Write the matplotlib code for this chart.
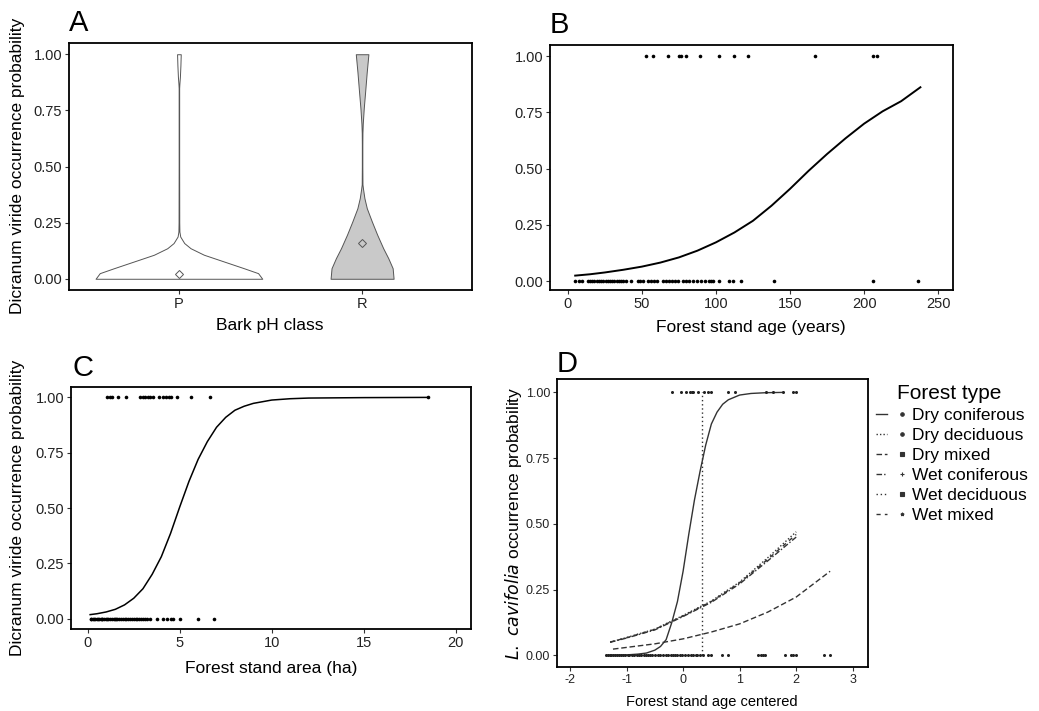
import matplotlib
matplotlib.use("Agg")
import matplotlib.pyplot as plt
from matplotlib.lines import Line2D
from matplotlib.legend_handler import HandlerTuple

plt.rcParams['font.family'] = ['Liberation Sans', 'DejaVu Sans']
plt.rcParams['axes.unicode_minus'] = False

# ---- data ----
# A: violin profiles (relative width 0..1 at each probability level)
bark_classes = ['P', 'R']
p_levels = [0, 0.01, 0.025, 0.047, 0.077, 0.107, 0.136, 0.159, 0.188, 0.21, 0.25, 0.5, 0.85, 0.87, 0.9, 0.95, 1.0]
p_width = [1.0, 0.98, 0.95, 0.78, 0.54, 0.30, 0.14, 0.064, 0.016, 0.006, 0.004, 0.003, 0.003, 0.006, 0.012, 0.018, 0.022]
r_levels = [0, 0.047, 0.092, 0.136, 0.196, 0.255, 0.314, 0.359, 0.40, 0.42, 0.5, 0.6, 0.65, 0.69, 0.76, 0.83, 0.92, 1.0]
r_width = [1.0, 0.97, 0.83, 0.67, 0.48, 0.31, 0.15, 0.074, 0.03, 0.012, 0.008, 0.008, 0.011, 0.021, 0.053, 0.095, 0.147, 0.2]
bark_means = [0.02, 0.16]

# B: forest stand age
age_present = [52.7, 57.7, 67.4, 75, 76.6, 79.5, 89.4, 102.2, 112.2, 121.8, 166.7, 206.3, 208.6]
age_absent = [4.7, 7.7, 9.7, 13.5, 15, 16.5, 18, 19.5, 21, 22.5, 24, 25.5, 27, 28.5, 30, 31.5, 33,
              34.5, 36, 37.5, 39.5, 43, 47.5, 49, 51, 54, 56, 58, 60, 64.5, 66.5, 68.5, 70.5, 72.5,
              74.5, 78, 80, 82, 84.5, 87.5, 90, 92.5, 95, 97, 98, 102, 109, 111.7, 117, 139, 206.3, 236.3]
age_fit_x = [5, 15, 25, 37.5, 50, 62.5, 75, 87.5, 100, 112.5, 125, 137.5, 150, 162.5, 175,
             187.5, 200, 212.5, 225, 238]
age_fit_y = [0.024, 0.03, 0.038, 0.05, 0.064, 0.082, 0.105, 0.135, 0.172, 0.216, 0.268, 0.335,
             0.41, 0.49, 0.565, 0.635, 0.70, 0.755, 0.80, 0.862]

# C: forest stand area
area_present = [1.07, 1.2, 1.32, 1.63, 2.1, 2.85, 3.0, 3.1, 3.25, 3.4, 3.55, 3.85, 4.1, 4.25,
                4.4, 4.55, 4.85, 5.6, 6.65, 18.5]
area_absent = [0.15, 0.2, 0.3, 0.35, 0.4, 0.5, 0.55, 0.6, 0.7, 0.75, 0.8, 0.9, 1.0, 1.05, 1.1,
               1.2, 1.3, 1.4, 1.5, 1.55, 1.6, 1.7, 1.8, 1.9, 2.0, 2.1, 2.2, 2.3, 2.4, 2.5, 2.6,
               2.7, 2.8, 2.9, 3.0, 3.1, 3.2, 3.39, 3.75, 4.11, 4.3, 4.5, 4.65, 5.02, 6.01, 6.88]
area_fit_x = [0.13, 0.5, 1, 1.5, 2, 2.5, 3, 3.5, 4, 4.5, 5, 5.5, 6, 6.5, 7, 7.5, 8, 8.5, 9,
              10, 11, 12, 15, 18.5]
area_fit_y = [0.018, 0.022, 0.03, 0.042, 0.062, 0.092, 0.135, 0.2, 0.28, 0.385, 0.505, 0.62,
              0.72, 0.80, 0.865, 0.91, 0.942, 0.96, 0.973, 0.988, 0.994, 0.997, 0.999, 1.0]

# D: centred age by forest type
forest_types = ['Dry coniferous', 'Dry deciduous', 'Dry mixed', 'Wet coniferous', 'Wet deciduous', 'Wet mixed']
fit_x = {
    'Dry coniferous': [-1.35, -1.0, -0.8, -0.65, -0.5, -0.4, -0.3, -0.2, -0.1, 0, 0.1, 0.2, 0.3,
                       0.4, 0.5, 0.6, 0.7, 0.8, 1.0, 1.2, 1.47, 1.76],
    'Dry deciduous': [-1.29, -1.0, -0.5, 0, 0.5, 1.0, 1.5, 2.0],
    'Dry mixed': [-1.24, -0.5, 0, 0.5, 1.0, 1.5, 2.0, 2.6],
    'Wet coniferous': [-1.29, -1.0, -0.5, 0, 0.5, 1.0, 1.5, 2.0],
    'Wet deciduous': [0.33, 0.33],
    'Wet mixed': [-1.29, -1.0, -0.5, 0, 0.5, 1.0, 1.5, 2.0],
}
fit_y = {
    'Dry coniferous': [0.0, 0.002, 0.005, 0.009, 0.02, 0.034, 0.06, 0.125, 0.205, 0.32, 0.46,
                       0.59, 0.70, 0.80, 0.88, 0.925, 0.955, 0.972, 0.99, 0.996, 0.999, 1.0],
    'Dry deciduous': [0.05, 0.068, 0.10, 0.152, 0.207, 0.279, 0.372, 0.47],
    'Dry mixed': [0.024, 0.044, 0.063, 0.089, 0.12, 0.165, 0.222, 0.32],
    'Wet coniferous': [0.05, 0.066, 0.097, 0.148, 0.202, 0.272, 0.36, 0.45],
    'Wet deciduous': [0.0, 1.0],
    'Wet mixed': [0.051, 0.067, 0.099, 0.150, 0.205, 0.276, 0.366, 0.46],
}
cent_present = [-0.19, -0.03, 0.06, 0.12, 0.15, 0.18, 0.27, 0.37, 0.44, 0.5, 0.8, 0.91, 1.47, 1.59, 1.77, 1.94, 1.99]
cent_absent = [-1.37, -1.33, -1.3, -1.27, -1.24, -1.2, -1.17, -1.13, -1.1, -1.06, -1.02, -0.98, -0.95,
               -0.9, -0.86, -0.82, -0.78, -0.74, -0.7, -0.66, -0.62, -0.58, -0.55, -0.5, -0.44, -0.4,
               -0.35, -0.3, -0.27, -0.22, -0.18, -0.14, -0.1, -0.06, -0.02, 0.03, 0.08, 0.14, 0.18,
               0.22, 0.25, 0.3, 0.36, 0.44, 0.5, 0.68, 0.8, 1.33, 1.37, 1.41, 1.45, 1.8, 1.9, 1.95,
               2.0, 2.49, 2.6]

# ---- figure ----
W, H = 1039, 711
fig = plt.figure(figsize=(W / 100, H / 100), dpi=100)
fig.patch.set_facecolor('white')


def add_ax(l, t, r, b):
    return fig.add_axes([l / W, 1 - b / H, (r - l) / W, (b - t) / H])


def text_px(x, y, s, **kw):
    fig.text(x / W, 1 - y / H, s, **kw)


def style(ax, tsize=10.5):
    for sp in ax.spines.values():
        sp.set_linewidth(1.3)
        sp.set_color('black')
    ax.tick_params(length=3, width=0.8, color='#333333', labelcolor='#222222',
                   labelsize=tsize, pad=2)
    ax.set_yticks([0, 0.25, 0.5, 0.75, 1.0])
    ax.set_yticklabels(['0.00', '0.25', '0.50', '0.75', '1.00'])


# A
axA = add_ax(69, 43, 472, 290)
half = [0.455, 0.172]
fills = ['white', '#c9c9c9']
profiles = [(p_levels, p_width), (r_levels, r_width)]
for i, (lv, wd) in enumerate(profiles):
    c = i + 1
    left = [c - half[i] * w for w in wd]
    right = [c + half[i] * w for w in wd]
    axA.fill_betweenx(lv, left, right, facecolor=fills[i], edgecolor='#555555', linewidth=0.7)
    axA.plot([c], [bark_means[i]], marker='D', ms=4.5, mfc='none', mec='#555555', mew=0.7)
axA.set_xlim(0.4, 2.6)
axA.set_ylim(-0.05, 1.05)
axA.set_xticks([1, 2])
axA.set_xticklabels(bark_classes)
style(axA)

# B
axB = add_ax(550, 45, 953, 290)
axB.plot(age_present, [1] * len(age_present), 'o', color='black', ms=2.6, mew=0)
axB.plot(age_absent, [0] * len(age_absent), 'o', color='black', ms=2.6, mew=0)
axB.plot(age_fit_x, age_fit_y, color='black', lw=1.4)
axB.set_xlim(-12, 260)
axB.set_ylim(-0.04, 1.05)
axB.set_xticks([0, 50, 100, 150, 200, 250])
style(axB)

# C
axC = add_ax(71, 387, 471, 629)
axC.plot(area_present, [1] * len(area_present), 'o', color='black', ms=2.6, mew=0)
axC.plot(area_absent, [0] * len(area_absent), 'o', color='black', ms=2.6, mew=0)
axC.plot(area_fit_x, area_fit_y, color='black', lw=1.1)
axC.set_xlim(-0.91, 20.83)
axC.set_ylim(-0.047, 1.047)
axC.set_xticks([0, 5, 10, 15, 20])
style(axC)

# D
axD = add_ax(557, 379, 868, 667)
styles = {
    'Dry coniferous': '-',
    'Dry deciduous': (0, (1, 1.5)),
    'Dry mixed': (0, (4, 2)),
    'Wet coniferous': (0, (4, 1.5, 1, 1.5)),
    'Wet deciduous': (0, (1, 2)),
    'Wet mixed': (0, (3, 3)),
}
marks = {
    'Dry coniferous': 'o', 'Dry deciduous': 'o', 'Dry mixed': 's',
    'Wet coniferous': '+', 'Wet deciduous': 's', 'Wet mixed': '*',
}
for ft in forest_types:
    axD.plot(fit_x[ft], fit_y[ft], color='#333333', lw=1.0, ls=styles[ft])
axD.plot(cent_present, [1] * len(cent_present), 'o', color='#222222', ms=2.2, mew=0)
axD.plot(cent_absent, [0] * len(cent_absent), 'o', color='#222222', ms=2.2, mew=0)
axD.set_xlim(-2.23, 3.27)
axD.set_ylim(-0.044, 1.051)
axD.set_xticks([-2, -1, 0, 1, 2, 3])
style(axD, tsize=9)

handles = []
for ft in forest_types:
    ln = Line2D([], [], color='#333333', lw=1.0, ls=styles[ft])
    mk = Line2D([], [], color='#333333', marker=marks[ft], ms=2.5, mew=0.8, ls='none')
    handles.append((ln, mk))
fig.legend(handles, forest_types, loc='upper left', bbox_to_anchor=(876 / W, 1 - 408 / H),
           frameon=False, fontsize=12.5, handler_map={tuple: HandlerTuple(ndivide=None, pad=0.5)},
           handlelength=1.8, handletextpad=0.3, labelspacing=0.28, borderpad=0, borderaxespad=0)
text_px(897, 399, 'Forest type', fontsize=15, va='baseline')

# labels
ylab = 'Dicranum viride occurrence probability'
text_px(18, 166, ylab, fontsize=12.5, rotation=90, ha='center', va='center')
text_px(18, 508, ylab, fontsize=12.5, rotation=90, ha='center', va='center')
fig.text(513 / W, 1 - 523 / H, r'$\it{L.\ cavifolia}$' + ' occurrence probability',
         fontsize=12.5, rotation=90, ha='center', va='center')
text_px(270, 330, 'Bark pH class', fontsize=12.5, ha='center', va='baseline')
text_px(751, 332, 'Forest stand age (years)', fontsize=12.5, ha='center', va='baseline')
text_px(271, 673, 'Forest stand area (ha)', fontsize=12.5, ha='center', va='baseline')
text_px(712, 706, 'Forest stand age centered', fontsize=10.5, ha='center', va='baseline')

# panel letters
text_px(69, 31, 'A', fontsize=21, va='baseline')
text_px(550, 33, 'B', fontsize=21, va='baseline')
text_px(72, 376, 'C', fontsize=21, va='baseline')
text_px(557, 372, 'D', fontsize=21, va='baseline')

fig.savefig('out.png', dpi=100, facecolor='white')
